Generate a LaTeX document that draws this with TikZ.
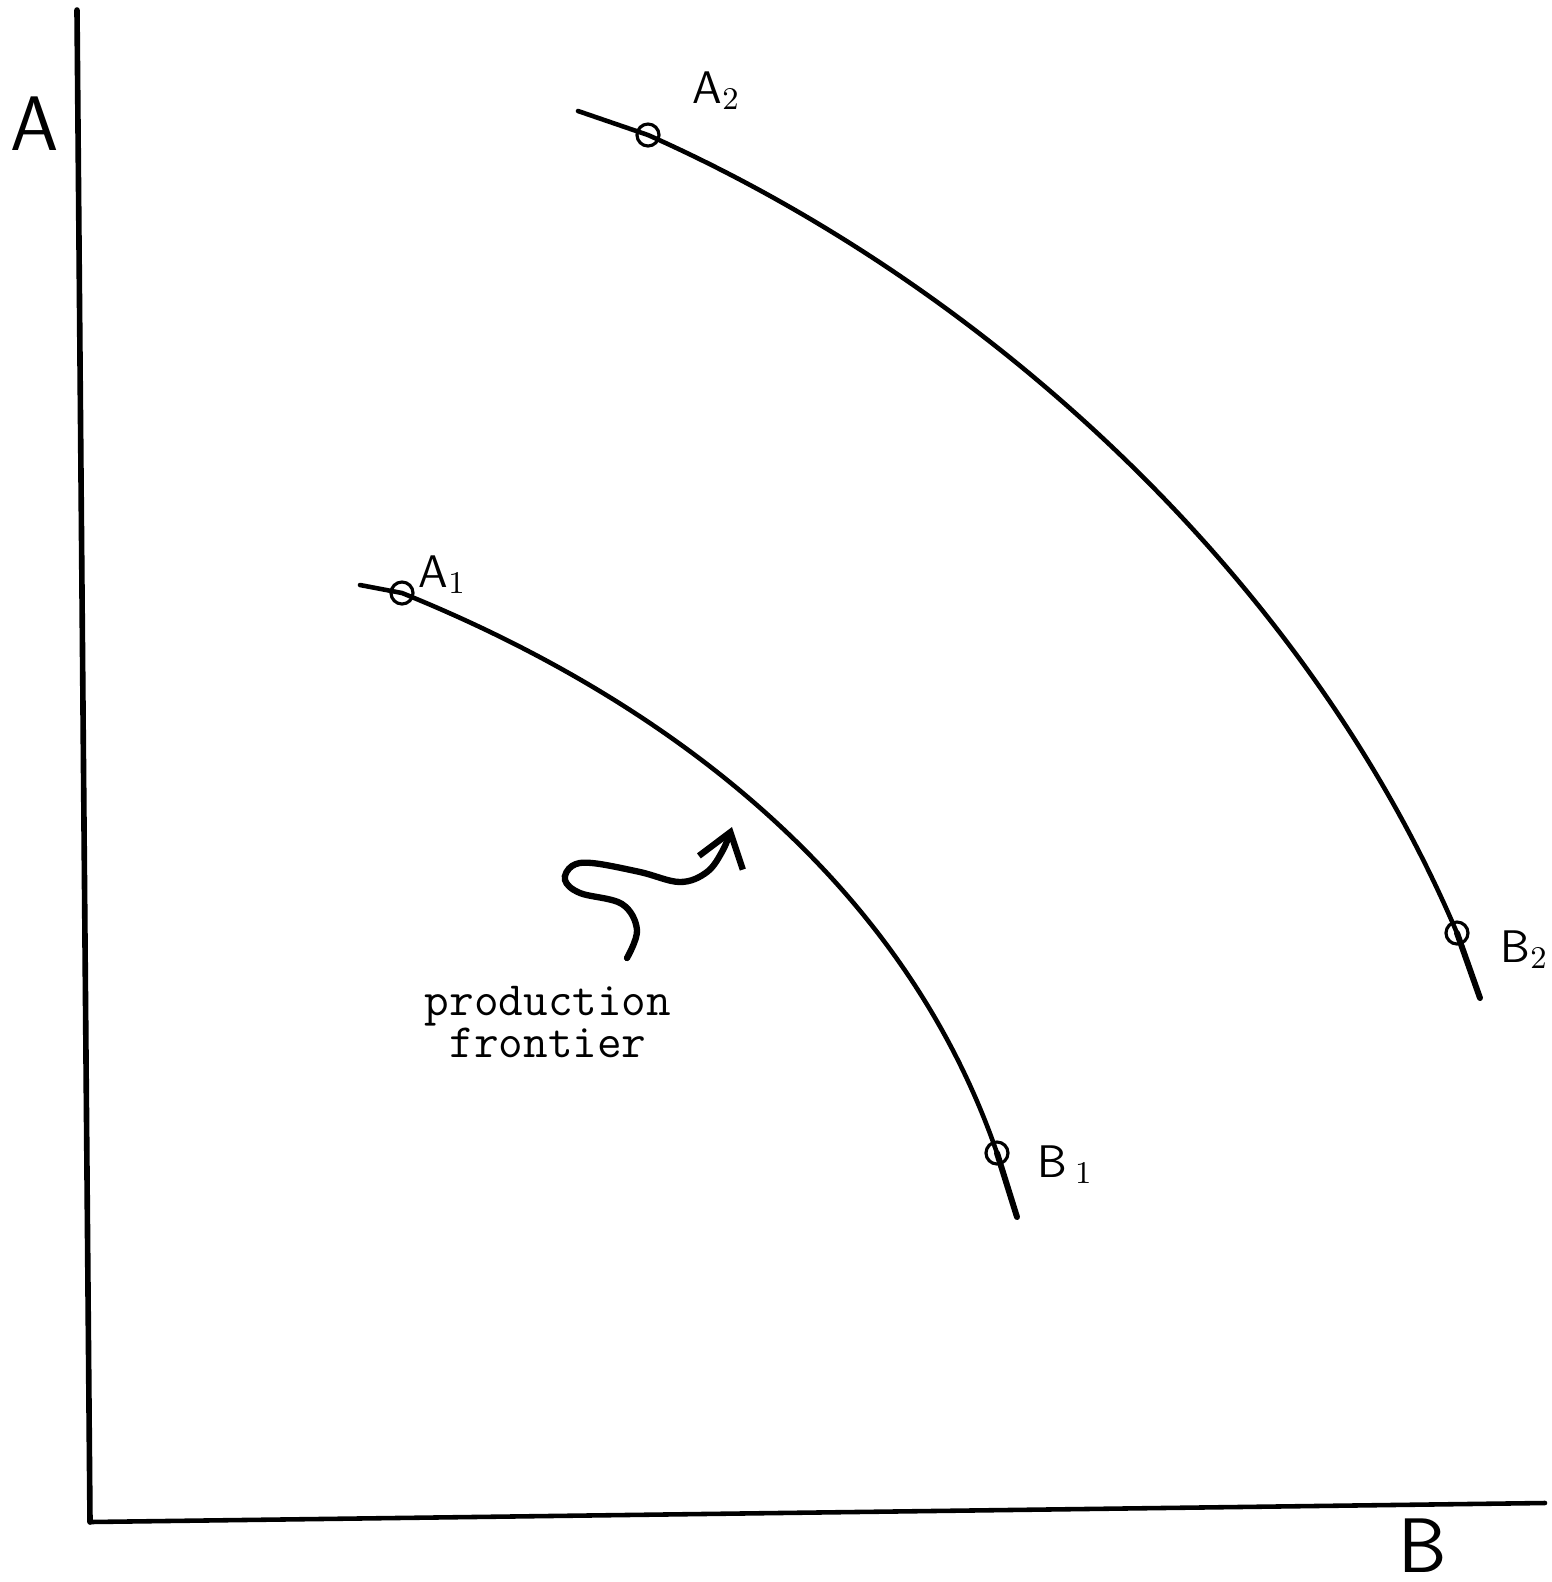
\documentclass[tikz,border=0pt]{standalone}
\usepackage{tikz}
\usetikzlibrary{arrows.meta,positioning,calc}

\begin{document}
\begin{tikzpicture}[x=0.1mm, y=-0.1mm,
    axis/.style={line width=1.6pt, line cap=round},
    frontier/.style={line width=1.3pt, line cap=round},
    pt/.style={circle, draw, line width=0.9pt, minimum size=2.2mm, inner sep=0pt},
    lbl/.style={anchor=base west, inner sep=0pt, font=\fontsize{13}{15}\selectfont\sffamily},
    axlbl/.style={anchor=base west, inner sep=0pt, font=\fontsize{22}{26}\selectfont\sffamily},
    squiggle/.style={line width=1.8pt, line cap=round, -{Straight Barb[length=3.2mm, width=4.6mm, line width=1.8pt]}}]
  \useasboundingbox (0,0) rectangle (1552,1582);
  % Axes
  \coordinate (top) at (77,10);
  \coordinate (origin) at (90,1522);
  \coordinate (right) at (1545,1503);
  \draw[axis] (top) -- (origin);
  \draw[axis, line width=1.3pt] (origin) -- (right);
  \node[axlbl] (labA) at (10,150) {A};
  \node[axlbl] (labB) at (1398,1572) {B};
  % Inner frontier
  \coordinate (s1) at (360,585);
  \coordinate (e1) at (1017,1217);
  \node[pt] (A1) at (402,593) {};
  \node[pt] (B1) at (997,1153) {};
  \draw[frontier] (s1) -- (A1.center) to[out=-22, in=109, looseness=0.9] (B1.center);
  \draw[frontier, line width=1.7pt] (B1.center) -- (e1);
  \node[lbl] (lA1) at (418,587) {A$_1$};
  \node[lbl] (lB1) at (1037,1177) {B\,$_1$};
  % Outer frontier
  \coordinate (s2) at (578,111);
  \coordinate (e2) at (1480,998);
  \node[pt] (A2) at (648,135) {};
  \node[pt] (B2) at (1457,933) {};
  \draw[frontier] (s2) -- (A2.center) to[out=-24, in=113, looseness=0.85] (B2.center);
  \draw[frontier, line width=1.7pt] (B2.center) -- (e2);
  \node[lbl] (lA2) at (692,103) {A$_2$};
  \node[lbl] (lB2) at (1500,962) {B$_2$};
  % Label with wavy pointer
  \node[font=\fontsize{13.6}{12.2}\selectfont\ttfamily, align=center, inner sep=0pt] (note) at (548,1022) {production\\frontier};
  \coordinate (tail) at (627,958);
  \coordinate (tip) at (732,827);
  \draw[squiggle] plot[smooth, tension=0.6] coordinates {(tail) (637,930) (622,904) (580,893) (565,880) (572,866) (592,863) (640,872) (680,882) (707,872) (723,850) (tip)};
\end{tikzpicture}
\end{document}
